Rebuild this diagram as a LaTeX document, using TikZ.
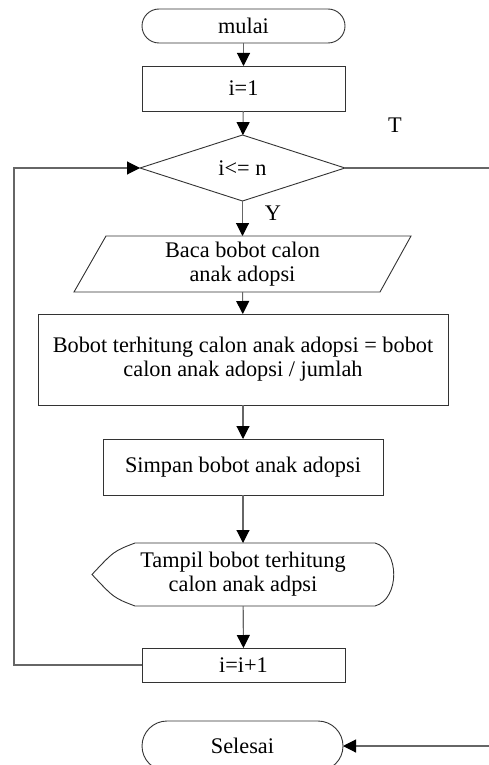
\documentclass[tikz,border=0pt]{standalone}
\usepackage{fontspec}
\setmainfont{Liberation Serif}
\usetikzlibrary{arrows.meta,shapes.geometric}
\begin{document}
\begin{tikzpicture}[x=1pt,y=-1pt,
  shp/.style={draw=black!80, line width=0.9pt},
  conn/.style={draw=black!60, line width=1.1pt},
  arr/.style={conn, -{Triangle[length=13pt,width=13pt,color=black]}},
  txt/.style={font=\fontsize{22.3}{24}\selectfont, align=center, inner sep=0pt, outer sep=0pt},
]
\useasboundingbox (0,0) rectangle (489,765);
\fill[white] (0,0) rectangle (489,765);
% nodes
\node[shp, txt, rounded corners=17pt, minimum width=203pt, minimum height=34pt] (mulai) at (243.5,26) {mulai};
\node[shp, txt, minimum width=203pt, minimum height=45pt] (init) at (243.5,88.5) {i=1};
\node[shp, txt, diamond, aspect=3.1, minimum width=205pt, minimum height=66pt] (dec) at (242.5,168) {i<= n};
\draw[shp] (106,236) -- (411,236) -- (380,292) -- (74,292) -- cycle;
\node[txt, minimum width=240pt, minimum height=56pt] (baca) at (242.5,264) {Baca bobot calon\\anak adopsi};
\node[shp, txt, minimum width=410pt, minimum height=91pt] (hitung) at (243,359.5) {Bobot terhitung calon anak adopsi = bobot\\calon anak adopsi / jumlah};
\node[shp, txt, minimum width=280pt, minimum height=56pt] (simpan) at (243,467) {Simpan bobot anak adopsi};
\draw[shp] (135,543) -- (375,543) .. controls (400,550) and (400,599) .. (375,606) -- (135,606)
  .. controls (114,598) .. (92,574.5) .. controls (114,551) .. (135,543) -- cycle;
\node[txt, minimum width=240pt, minimum height=63pt] (tampil) at (243,574.5) {Tampil bobot terhitung\\calon anak adpsi};
\node[shp, txt, minimum width=203pt, minimum height=34pt] (inc) at (243.5,665) {i=i+1};
\node[shp, txt, rounded corners=25pt, minimum width=201pt, minimum height=50pt] (selesai) at (242.5,746) {Selesai};
\node[txt] (T) at (395,125) {T};
\node[txt] (Y) at (273,213) {Y};
% coordinates
\coordinate (loopL) at (14,665);
\coordinate (rightT) at (489,168);
\coordinate (rightS) at (489,746);
% connectors
\draw[arr] (mulai) -- (init);
\draw[arr] (init) -- (dec);
\draw[arr] (dec) -- (baca);
\draw[arr] (baca) -- (hitung);
\draw[arr] (hitung) -- (simpan);
\draw[arr] (simpan) -- (tampil);
\draw[arr] (tampil) -- (inc);
\draw[arr] (inc.west) -- (loopL) |- (dec.west);
\draw[conn] (dec.east) -- (rightT);
\draw[arr] (rightS) -- (selesai.east);
\end{tikzpicture}
\end{document}
